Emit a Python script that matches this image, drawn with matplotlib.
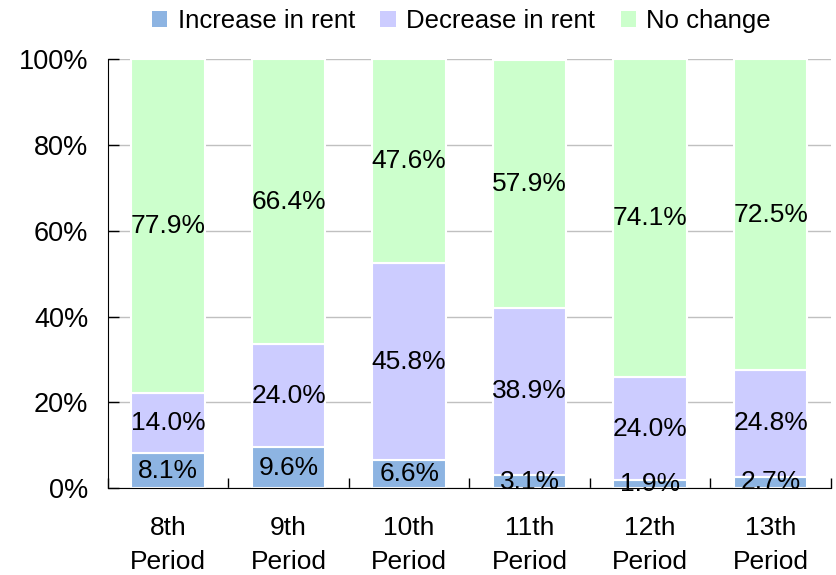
import numpy as np
import matplotlib.pyplot as plt
from matplotlib.patches import Patch

plt.rcParams['font.family'] = ['Liberation Sans', 'DejaVu Sans']

periods = ['8th\nPeriod', '9th\nPeriod', '10th\nPeriod', '11th\nPeriod', '12th\nPeriod', '13th\nPeriod']
increase = [8.1, 9.6, 6.6, 3.1, 1.9, 2.7]
decrease = [14.0, 24.0, 45.8, 38.9, 24.0, 24.8]
no_change = [77.9, 66.4, 47.6, 57.9, 74.1, 72.5]

series = [('Increase in rent', increase, '#8DB4E2'),
          ('Decrease in rent', decrease, '#CCCCFF'),
          ('No change', no_change, '#CCFFCC')]

fig = plt.figure(figsize=(8.36, 5.75), dpi=100)
ax = fig.add_axes([0.129, 0.151, 0.865, 0.746])

x = np.arange(len(periods))
bottom = np.zeros(len(periods))
for name, vals, col in series:
    vals = np.array(vals)
    ax.bar(x, vals, 0.61, bottom=bottom, color=col, edgecolor='white',
           linewidth=1.5, zorder=2)
    for xi, b, v in zip(x, bottom, vals):
        ax.text(xi, b + v / 2, f'{v:.1f}%', ha='center', va='center',
                fontsize=19, color='black', zorder=3)
    bottom += vals

ax.set_xlim(-0.5, len(periods) - 0.5)
ax.set_ylim(0, 100)
ax.set_yticks(np.arange(0, 101, 20))
ax.set_yticklabels([f'{v}%' for v in range(0, 101, 20)], fontsize=19.5)
ax.yaxis.grid(True, color='#c0c0c0', linewidth=1, zorder=0)
ax.set_axisbelow(True)

ax.set_xticks(x)
ax.set_xticklabels(periods, fontsize=19, linespacing=1.55)
ax.set_xticks(np.arange(-0.5, len(periods)), minor=True)
ax.tick_params(axis='x', which='major', length=0, pad=20)
ax.tick_params(axis='x', which='minor', direction='in', length=7, width=1)
ax.tick_params(axis='y', direction='in', length=8, width=1, pad=14)

for s in ['top', 'right']:
    ax.spines[s].set_visible(False)
ax.spines['left'].set_color('black')
ax.spines['bottom'].set_color('black')

handles = [Patch(facecolor=c, edgecolor='none', label=n) for n, _, c in series]
fig.legend(handles=handles, loc='upper center', bbox_to_anchor=(0.552, 1.025),
           ncol=3, frameon=False, fontsize=18.5, handlelength=0.6,
           handleheight=0.6, handletextpad=0.4, columnspacing=1.0)

fig.savefig('out.png', dpi=100)
